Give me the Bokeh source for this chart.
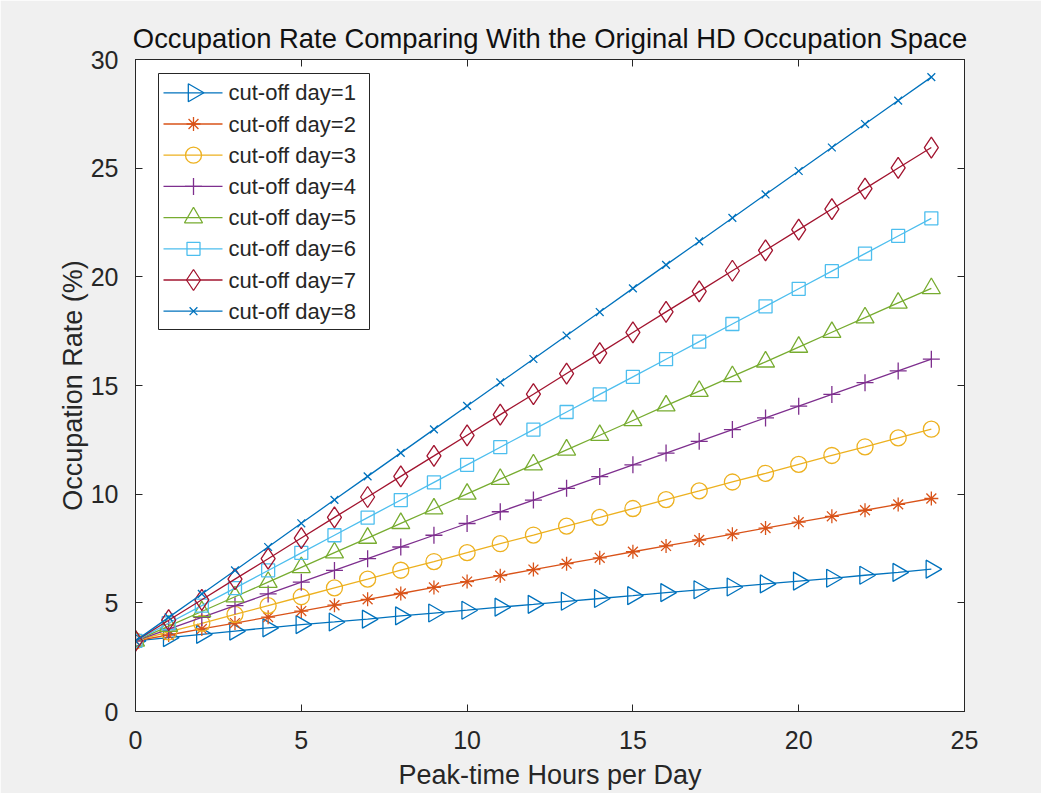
import numpy as np
from bokeh.plotting import figure
from bokeh.models import LinearAxis, Range1d, FixedTicker, Title
from bokeh.core.properties import value
from bokeh.embed import file_html
from bokeh.resources import INLINE

# Peak-time hours per day
hours = list(range(0, 25))

# Occupation rate (%) for each cut-off day
rate_day1 = [3.25, 3.40, 3.55, 3.70, 3.85, 4.00, 4.12, 4.25, 4.40, 4.53, 4.66,
             4.80, 4.93, 5.07, 5.20, 5.33, 5.47, 5.60, 5.73, 5.87, 6.00, 6.13,
             6.27, 6.40, 6.55]
rate_day2 = [3.25, 3.52, 3.80, 4.07, 4.34, 4.62, 4.89, 5.16, 5.43, 5.71, 5.98,
             6.25, 6.53, 6.80, 7.07, 7.35, 7.62, 7.89, 8.16, 8.44, 8.71, 8.98,
             9.26, 9.53, 9.80]
rate_day3 = [3.25, 3.66, 4.06, 4.47, 4.87, 5.28, 5.69, 6.09, 6.50, 6.90, 7.31,
             7.72, 8.12, 8.53, 8.93, 9.34, 9.75, 10.15, 10.56, 10.96, 11.37,
             11.78, 12.18, 12.59, 12.99]
rate_day4 = [3.25, 3.79, 4.33, 4.87, 5.41, 5.95, 6.49, 7.03, 7.57, 8.11, 8.65,
             9.19, 9.73, 10.27, 10.81, 11.35, 11.89, 12.43, 12.97, 13.51, 14.05,
             14.59, 15.13, 15.67, 16.21]
rate_day5 = [3.25, 3.93, 4.60, 5.28, 5.95, 6.63, 7.31, 7.98, 8.66, 9.33, 10.01,
             10.69, 11.36, 12.04, 12.71, 13.39, 14.07, 14.74, 15.42, 16.09,
             16.77, 17.45, 18.12, 18.80, 19.47]
rate_day6 = [3.25, 4.06, 4.87, 5.68, 6.49, 7.30, 8.11, 8.92, 9.73, 10.54, 11.35,
             12.16, 12.97, 13.78, 14.59, 15.40, 16.21, 17.02, 17.83, 18.64,
             19.45, 20.26, 21.07, 21.88, 22.69]
rate_day7 = [3.25, 4.20, 5.14, 6.09, 7.03, 7.98, 8.93, 9.87, 10.82, 11.76, 12.71,
             13.66, 14.60, 15.55, 16.49, 17.44, 18.39, 19.33, 20.28, 21.22,
             22.17, 23.12, 24.06, 25.01, 25.95]
rate_day8 = [3.25, 4.33, 5.41, 6.49, 7.57, 8.66, 9.74, 10.82, 11.90, 12.98, 14.06,
             15.14, 16.22, 17.30, 18.38, 19.47, 20.55, 21.63, 22.71, 23.79,
             24.87, 25.95, 27.03, 28.11, 29.19]

series_labels = ["cut-off day=%d" % d for d in range(1, 9)]
series_values = [rate_day1, rate_day2, rate_day3, rate_day4,
                 rate_day5, rate_day6, rate_day7, rate_day8]

x_ticks = [0, 5, 10, 15, 20, 25]
y_ticks = [0, 5, 10, 15, 20, 25, 30]

colors = ["#0072BD", "#D95319", "#EDB120", "#7E2F8E",
          "#77AC30", "#4DBEEE", "#A2142F", "#0072BD"]
# (marker, rotation, size) for each series
markers = [("triangle", -np.pi / 2, 18), ("asterisk", 0, 14), ("circle", 0, 16),
           ("cross", 0, 17), ("triangle", 0, 18), ("square", 0, 13),
           ("diamond", 0, 21), ("x", 0, 11)]

FONT = "Liberation Sans"
TXT = "#262626"

W, H = 1041, 793
LEFT, RIGHT, TOP, BOTTOM = 135, 77, 59, 82
FRAME_W, FRAME_H = W - LEFT - RIGHT, H - TOP - BOTTOM

p = figure(width=W, height=H, output_backend="svg", toolbar_location=None,
           x_range=Range1d(0, 25), y_range=Range1d(0, 30),
           min_border_left=LEFT, min_border_right=RIGHT,
           min_border_top=TOP, min_border_bottom=BOTTOM)
p.border_fill_color = "#f0f0f0"
p.background_fill_color = "white"
p.outline_line_color = TXT
p.outline_line_width = 1
p.grid.visible = False

# pixel-based ranges spanning the frame, used for the legend block
p.extra_x_ranges = {"px": Range1d(0, FRAME_W)}
p.extra_y_ranges = {"py": Range1d(0, FRAME_H)}

for ax in (p.xaxis[0], p.yaxis[0]):
    ax.major_tick_in = 7
    ax.major_tick_out = 0
    ax.minor_tick_in = 0
    ax.minor_tick_out = 0
    ax.axis_line_color = TXT
    ax.major_tick_line_color = TXT
    ax.major_label_text_font = FONT
    ax.major_label_text_font_size = "25px"
    ax.major_label_text_color = TXT
    ax.axis_label_text_font = FONT
    ax.axis_label_text_font_size = "27px"
    ax.axis_label_text_font_style = "normal"
    ax.axis_label_text_color = TXT

p.xaxis.ticker = FixedTicker(ticks=x_ticks)
p.yaxis.ticker = FixedTicker(ticks=y_ticks)
p.xaxis.axis_label = "Peak-time Hours per Day"
p.yaxis.axis_label = "Occupation Rate (%)"
p.xaxis.major_label_standoff = 19
p.yaxis.major_label_standoff = 17
p.xaxis.axis_label_standoff = 8
p.yaxis.axis_label_standoff = 0

# Box ticks on the top and right edges
for side in ("above", "right"):
    ax = LinearAxis(ticker=FixedTicker(ticks=x_ticks if side == "above" else y_ticks),
                    major_tick_in=7, major_tick_out=0,
                    minor_tick_in=0, minor_tick_out=0,
                    major_label_text_font_size="0px", major_label_standoff=0,
                    axis_line_color=TXT, major_tick_line_color=TXT)
    p.add_layout(ax, side)

p.add_layout(Title(text="Occupation Rate Comparing With the Original HD Occupation Space",
                   text_font=FONT, text_font_size="27.4px", text_color="#111111",
                   text_font_style="normal", align="center", standoff=11), "above")

for label, vals, col, (mk, ang, sz) in zip(series_labels, series_values,
                                          colors, markers):
    p.line(hours, vals, line_color=col, line_width=1.3)
    p.scatter(hours, vals, marker=mk, angle=ang, size=sz,
              line_color=col, line_width=1.3, fill_alpha=0)

# Legend block, laid out in frame pixels
LEG_L, LEG_R, LEG_T, LEG_B = 23, 234, 638, 382
ROW0, ROW_STEP = 618.7, 31.2
GLYPH_X0, GLYPH_X1, MARK_X, TEXT_X = 28, 87, 58, 93

p.quad(left=[LEG_L], right=[LEG_R], top=[LEG_T], bottom=[LEG_B],
       fill_color="white", line_color=TXT, line_width=1,
       x_range_name="px", y_range_name="py")
for i, (label, col, (mk, ang, sz)) in enumerate(zip(series_labels, colors, markers)):
    yy = ROW0 - i * ROW_STEP
    p.segment(x0=[GLYPH_X0], y0=[yy], x1=[GLYPH_X1], y1=[yy],
              line_color=col, line_width=1.3,
              x_range_name="px", y_range_name="py")
    p.scatter(x=[MARK_X], y=[yy], marker=mk, angle=ang, size=sz,
              line_color=col, line_width=1.3, fill_alpha=0,
              x_range_name="px", y_range_name="py")
    p.text(x=[TEXT_X], y=[yy], text=[label], text_font=value(FONT),
           text_font_size="22px", text_color=TXT,
           text_align="left", text_baseline="middle",
           x_range_name="px", y_range_name="py")

open("out.html", "w").write(file_html(p, INLINE))
